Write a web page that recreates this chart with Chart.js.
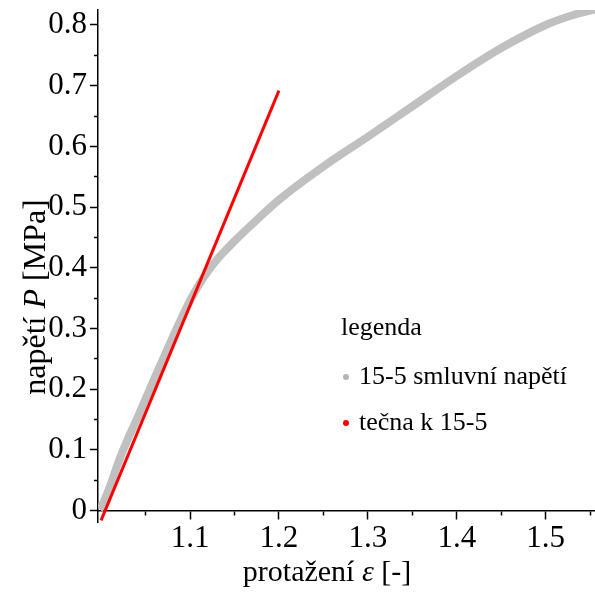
<!DOCTYPE html>
<html>
<head>
<meta charset="utf-8">
<script src="https://cdn.jsdelivr.net/npm/chart.js@4.4.1/dist/chart.umd.min.js"></script>
<style>
  html, body { margin: 0; padding: 0; background: #fff; }
  #wrap { position: relative; width: 595px; height: 592px; }
  #legend { position: absolute; left: 0; top: 0; font-family: "Liberation Serif", serif; font-size: 26px; color: #000; }
  #legend .row { position: absolute; white-space: nowrap; height: 30px; line-height: 30px; }
  #legend .dot { position: absolute; width: 6px; height: 6px; border-radius: 50%; }
</style>
</head>
<body>
<div id="wrap">
  <canvas id="chart-area" width="595" height="592"></canvas>
  <div id="legend"></div>
</div>
<script>
const strain = [0.998, 1.0, 1.01, 1.02, 1.03, 1.04, 1.05, 1.06, 1.07, 1.08, 1.09, 1.10, 1.11, 1.12,
  1.13, 1.14, 1.15, 1.17, 1.20, 1.25, 1.30, 1.35, 1.40, 1.45, 1.50, 1.53, 1.556];
const stress = [0.003, 0.006, 0.040, 0.082, 0.118, 0.150, 0.184, 0.218, 0.251, 0.284, 0.316, 0.346, 0.372, 0.394,
  0.413, 0.429, 0.444, 0.472, 0.512, 0.567, 0.616, 0.666, 0.716, 0.762, 0.800, 0.816, 0.826];

// red tangent
const tangentStrain = [1.0, 1.2];
const tangentStress = [-0.016, 0.692];

const seriesLabels = ['15-5 smluvní napětí', 'tečna k 15-5'];
const legendTitle = 'legenda';

const xMajor = [1.1, 1.2, 1.3, 1.4, 1.5];
const xMinor = [1.05, 1.15, 1.25, 1.35, 1.45, 1.55];
const yMajor = [0, 0.1, 0.2, 0.3, 0.4, 0.5, 0.6, 0.7, 0.8];
const yMinor = [0.05, 0.15, 0.25, 0.35, 0.45, 0.55, 0.65, 0.75];

const xTitle = [{text: 'protažení '}, {text: 'ε', italic: true}, {text: ' [-]'}];
const yTitle = [{text: 'napětí '}, {text: 'P', italic: true}, {text: ' [MPa]'}];

const FONT = '"Liberation Serif", serif';
Chart.defaults.font.family = FONT;
Chart.defaults.color = '#000';

function toPoints(xs, ys) {
  return xs.map((x, i) => ({x: x, y: ys[i]}));
}

function isMinor(ctx, minors) {
  return ctx.tick && minors.includes(ctx.tick.value);
}

function drawRichText(ctx, parts, cx, cy, size, angle) {
  ctx.save();
  ctx.translate(cx, cy);
  ctx.rotate(angle);
  ctx.textBaseline = 'middle';
  ctx.textAlign = 'left';
  ctx.fillStyle = '#000';
  const fonts = parts.map(p => (p.italic ? 'italic ' : '') + size + 'px ' + FONT);
  let total = 0;
  const widths = parts.map((p, i) => {
    ctx.font = fonts[i];
    const w = ctx.measureText(p.text).width;
    total += w;
    return w;
  });
  let x = -total / 2;
  parts.forEach((p, i) => {
    ctx.font = fonts[i];
    ctx.fillText(p.text, x, 0);
    x += widths[i];
  });
  ctx.restore();
}

const axisTitles = {
  id: 'axisTitles',
  afterDraw(chart) {
    const ctx = chart.ctx;
    drawRichText(ctx, xTitle, 327, 573, 30, 0);
    drawRichText(ctx, yTitle, 37, 297, 32, -Math.PI / 2);
  }
};

const ctx = document.getElementById('chart-area').getContext('2d');
const chart = new Chart(ctx, {
  type: 'scatter',
  data: {
    datasets: [{
      label: seriesLabels[0],
      data: toPoints(strain, stress),
      showLine: true,
      borderColor: '#c0c0c0',
      backgroundColor: '#b4b4b4',
      borderWidth: 8,
      pointRadius: 0,
      cubicInterpolationMode: 'monotone',
      order: 2
    }, {
      label: seriesLabels[1],
      data: toPoints(tangentStrain, tangentStress),
      showLine: true,
      borderColor: '#ff0000',
      backgroundColor: '#ff0000',
      borderWidth: 3,
      pointRadius: 0,
      order: 1
    }]
  },
  options: {
    responsive: false,
    animation: false,
    devicePixelRatio: 1,
    layout: { padding: { top: 10, right: 0, bottom: 70, left: 0 } },
    plugins: { legend: { display: false }, tooltip: { enabled: false } },
    scales: {
      x: {
        type: 'linear',
        position: { y: 0 },
        min: 0.99654,
        max: 1.55543,
        afterBuildTicks(scale) {
          scale.ticks = xMajor.concat(xMinor).sort((a, b) => a - b).map(v => ({value: v}));
        },
        afterFit(scale) {
          scale.paddingLeft = 0; scale.paddingRight = 0;
          scale.paddingTop = 0; scale.paddingBottom = 0;
        },
        ticks: {
          autoSkip: false,
          maxRotation: 0,
          padding: 2,
          font: { size: 31 },
          callback: v => xMajor.includes(v) ? String(v) : ''
        },
        border: { color: '#000', width: 1.5 },
        grid: {
          drawOnChartArea: false,
          drawTicks: true,
          tickLength: 8,
          tickColor: '#000',
          tickWidth: 1.5,
          tickBorderDash: c => isMinor(c, xMinor) ? [4, 4] : [],
          tickBorderDashOffset: 0
        }
      },
      y: {
        type: 'linear',
        position: 'left',
        min: -0.0186,
        max: 0.8247,
        afterBuildTicks(scale) {
          scale.ticks = yMajor.concat(yMinor).sort((a, b) => a - b).map(v => ({value: v}));
        },
        afterFit(scale) {
          scale.width = 98;
          scale.paddingTop = 0; scale.paddingBottom = 0;
        },
        ticks: {
          autoSkip: false,
          padding: 3,
          font: { size: 31 },
          callback: v => yMajor.includes(v) ? String(v) : ''
        },
        border: { color: '#000', width: 1.5 },
        grid: {
          drawOnChartArea: false,
          drawTicks: true,
          tickLength: 8,
          tickColor: '#000',
          tickWidth: 1.5,
          tickBorderDash: c => isMinor(c, yMinor) ? [4, 4] : [],
          tickBorderDashOffset: c => isMinor(c, yMinor) ? 4 : 0
        }
      }
    }
  },
  plugins: [axisTitles]
});

// legend drawn as html, built from the datasets
const legendEl = document.getElementById('legend');
const rows = [{text: legendTitle, x: 341, y: 312}];
const rowY = [361, 407];
chart.data.datasets.forEach((ds, i) => {
  rows.push({text: ds.label, x: 359, y: rowY[i], color: ds.backgroundColor});
});
rows.forEach(r => {
  const div = document.createElement('div');
  div.className = 'row';
  div.style.left = r.x + 'px';
  div.style.top = r.y + 'px';
  div.textContent = r.text;
  legendEl.appendChild(div);
  if (r.color) {
    const dot = document.createElement('div');
    dot.className = 'dot';
    dot.style.background = r.color;
    dot.style.left = (r.x - 16) + 'px';
    dot.style.top = (r.y + 13) + 'px';
    legendEl.appendChild(dot);
  }
});
</script>
</body>
</html>
